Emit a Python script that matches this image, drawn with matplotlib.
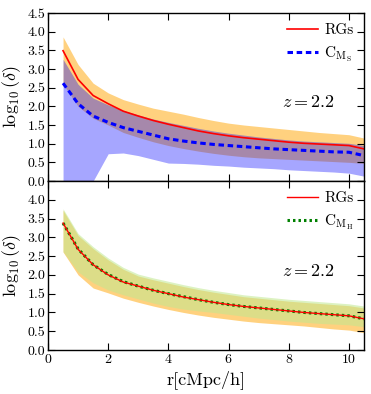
import numpy as np
import matplotlib
matplotlib.use("Agg")
import matplotlib.pyplot as plt

plt.rcParams['font.family'] = 'serif'
plt.rcParams['font.serif'] = ['cmr10', 'DejaVu Serif']
plt.rcParams['mathtext.fontset'] = 'cm'
plt.rcParams['axes.formatter.use_mathtext'] = True

r = [0.5, 1.0, 1.5, 2.0, 2.5, 3.0, 3.5, 4.0, 4.5, 5.0, 5.5,
     6.0, 6.5, 7.0, 7.5, 8.0, 8.5, 9.0, 9.5, 10.0, 10.5]

# Top panel
rg_top = [3.49, 2.72, 2.29, 2.07, 1.87, 1.74, 1.62, 1.52, 1.43, 1.34, 1.27,
          1.21, 1.16, 1.12, 1.08, 1.04, 1.01, 0.99, 0.97, 0.95, 0.86]
rg_top_hi = [3.86, 3.12, 2.62, 2.36, 2.18, 2.06, 1.95, 1.87, 1.79, 1.70, 1.62,
             1.55, 1.50, 1.46, 1.42, 1.38, 1.34, 1.30, 1.27, 1.24, 1.15]
rg_top_lo = [2.60, 2.00, 1.68, 1.50, 1.30, 1.17, 1.05, 0.95, 0.87, 0.80, 0.74,
             0.69, 0.65, 0.62, 0.60, 0.58, 0.56, 0.54, 0.52, 0.50, 0.47]
cms = [2.62, 2.07, 1.74, 1.57, 1.43, 1.33, 1.23, 1.13, 1.07, 1.02, 0.98,
       0.95, 0.92, 0.89, 0.86, 0.84, 0.82, 0.80, 0.78, 0.77, 0.68]
cms_hi = [3.26, 2.59, 2.22, 2.04, 1.89, 1.77, 1.66, 1.57, 1.49, 1.41, 1.34,
          1.28, 1.23, 1.18, 1.14, 1.10, 1.07, 1.05, 1.03, 1.01, 0.95]
cms_lo = [-0.5, -0.5, 0.0, 0.73, 0.75, 0.68, 0.58, 0.48, 0.47, 0.45, 0.42,
          0.40, 0.37, 0.35, 0.33, 0.30, 0.28, 0.26, 0.24, 0.21, 0.13]

# Bottom panel
rg_bot = [3.38, 2.68, 2.27, 2.00, 1.81, 1.70, 1.59, 1.50, 1.41, 1.34, 1.27,
          1.21, 1.16, 1.12, 1.08, 1.04, 1.00, 0.97, 0.94, 0.91, 0.83]
rg_bot_hi = [3.72, 3.05, 2.70, 2.40, 2.15, 1.97, 1.87, 1.78, 1.69, 1.61, 1.54,
             1.48, 1.42, 1.38, 1.34, 1.30, 1.27, 1.24, 1.21, 1.18, 1.12]
rg_bot_lo = [2.61, 2.00, 1.65, 1.52, 1.38, 1.27, 1.17, 1.08, 1.00, 0.93, 0.87,
             0.82, 0.77, 0.73, 0.70, 0.67, 0.64, 0.60, 0.56, 0.53, 0.46]
cmh = [3.38, 2.69, 2.27, 2.01, 1.82, 1.70, 1.59, 1.50, 1.42, 1.34, 1.27,
       1.21, 1.16, 1.12, 1.08, 1.04, 1.00, 0.97, 0.94, 0.91, 0.83]
cmh_hi = [3.76, 3.10, 2.75, 2.45, 2.20, 2.02, 1.92, 1.83, 1.74, 1.66, 1.59,
          1.53, 1.47, 1.43, 1.39, 1.35, 1.32, 1.29, 1.26, 1.23, 1.17]
cmh_lo = [2.62, 2.08, 1.79, 1.60, 1.47, 1.36, 1.25, 1.16, 1.09, 1.04, 1.00,
          0.95, 0.90, 0.85, 0.81, 0.77, 0.74, 0.71, 0.69, 0.67, 0.62]

yticks = [0.0, 0.5, 1.0, 1.5, 2.0, 2.5, 3.0, 3.5, 4.0, 4.5]
xticks = [0, 2, 4, 6, 8, 10]

fig = plt.figure(figsize=(3.71, 3.94), dpi=100)
L, R = 48/371, 364/371
ax1 = fig.add_axes([L, 1-181/394, R-L, (181-13)/394])
ax2 = fig.add_axes([L, 1-350/394, R-L, (350-181)/394])

for ax in (ax1, ax2):
    ax.set_xlim(0, 10.5)
    ax.set_ylim(0, 4.5)
    ax.set_xticks(xticks)
    ax.set_yticks(yticks)
    ax.tick_params(direction='in', top=True, right=True, length=5, width=0.8,
                   labelsize=10, pad=2)
    for s in ax.spines.values():
        s.set_linewidth(1.0)
    ax.set_ylabel(r'$\log_{10}(\delta)$', fontsize=13, labelpad=3)

# top
ax1.fill_between(r, rg_top_lo, rg_top_hi, color='orange', alpha=0.5, lw=0)
ax1.fill_between(r, cms_lo, cms_hi, color='blue', alpha=0.35, lw=0)
ax1.plot(r, rg_top, color='red', lw=1.2, label='RGs')
ax1.plot(r, cms, color='blue', lw=2.2, dashes=(1.8, 1.2),
         label=r'$\mathrm{C_{M_S}}$')
ax1.set_xticklabels([])
ax1.set_yticklabels(['%.1f' % t for t in yticks])
ax1.text(0.823, 0.47, r'$z=2.2$', transform=ax1.transAxes, fontsize=13,
         ha='center', va='center')
ax1.legend(loc='upper right', frameon=False, fontsize=11, handlelength=2.0,
           handletextpad=0.4, borderaxespad=0.3, labelspacing=0.45)

# bottom
ax2.fill_between(r, rg_bot_lo, rg_bot_hi, color='orange', alpha=0.5, lw=0)
ax2.fill_between(r, cmh_lo, cmh_hi, color='#c0e890', alpha=0.55, lw=0)
ax2.plot(r, cmh, color='green', lw=2.2, dashes=(0.8, 1.0),
         label=r'$\mathrm{C_{M_H}}$', zorder=3)
ax2.plot(r, rg_bot, color='red', lw=1.0, label='RGs', zorder=4)
ax2.set_yticklabels(['%.1f' % t for t in yticks[:-1]] + [''])
handles, labels = ax2.get_legend_handles_labels()
ax2.legend(handles[::-1], labels[::-1], loc='upper right', frameon=False,
           fontsize=11, handlelength=2.0, handletextpad=0.4,
           borderaxespad=0.3, labelspacing=0.45)
ax2.text(0.823, 0.47, r'$z=2.2$', transform=ax2.transAxes, fontsize=13,
         ha='center', va='center')
ax2.set_xlabel('r[cMpc/h]', fontsize=13, labelpad=3)

fig.savefig('out.png', dpi=100)
